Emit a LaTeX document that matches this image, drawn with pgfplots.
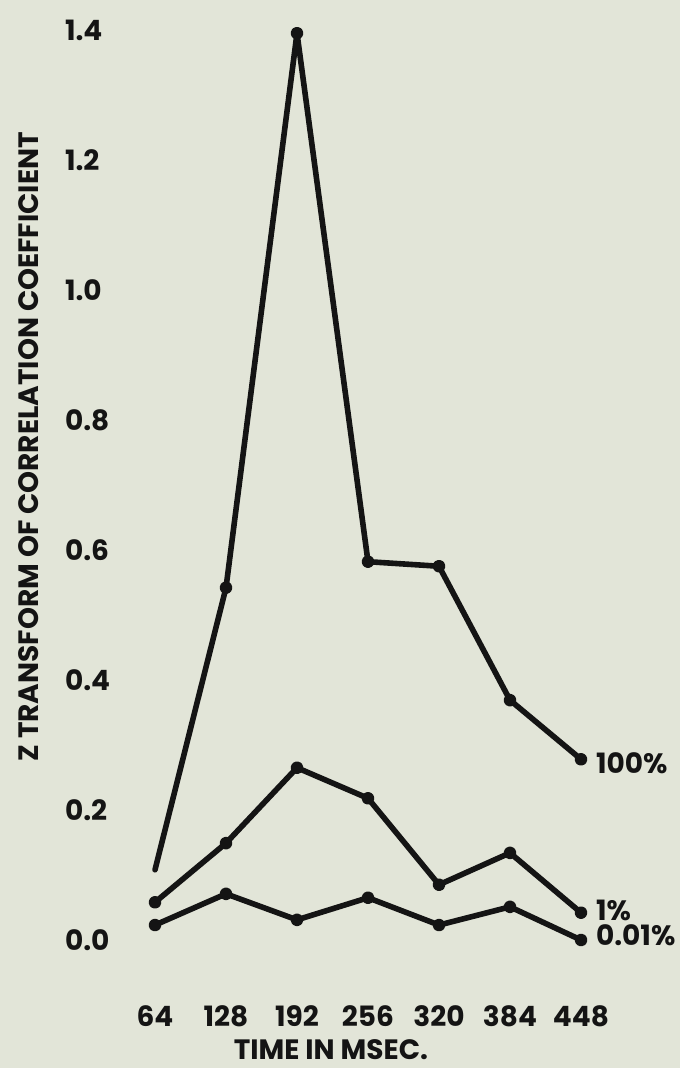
\documentclass[border=0pt]{standalone}
\usepackage{fontspec}
\setmainfont{Poppins}
\usepackage{pgfplots}
\pgfplotsset{compat=1.18}
\definecolor{paper}{RGB}{226,229,216}
\definecolor{ink}{RGB}{20,20,20}
\begin{document}
\begin{tikzpicture}
\fill[paper] (-77.5pt,-64pt) rectangle (262.5pt,470pt);
\begin{axis}[
  name=ax,
  at={(0,0)}, anchor=south west,
  scale only axis,
  width=213pt, height=455pt,
  xmin=64, xmax=448, ymin=0, ymax=1.4,
  xtick={64,128,192,256,320,384,448},
  xticklabels={64,128,192,256,320,384,448},
  ytick={0,0.2,0.4,0.6,0.8,1.0,1.2,1.4},
  yticklabels={0.0,0.2,0.4,0.6,0.8,1.0,1.2,1.4},
  axis line style={draw=none},
  major tick length=0pt,
  clip=false,
  tick label style={font=\fontsize{14}{16}\selectfont\bfseries, text=ink},
  yticklabel style={anchor=west, xshift=-48.5pt},
  xticklabel style={anchor=center, yshift=-38pt},
  xlabel={TIME IN MSEC.},
  ylabel={Z TRANSFORM OF CORRELATION COEFFICIENT},
  xlabel style={at={(axis description cs:0.413,0)}, anchor=center, yshift=-55pt, font=\fontsize{14}{16}\selectfont\bfseries, text=ink},
  ylabel style={at={(axis description cs:-0.296,0.542)}, anchor=center, font=\fontsize{14}{16}\selectfont\bfseries, text=ink},
]
\addplot[ink, line width=2.8pt, line join=round, line cap=round, mark=*, mark size=1.8pt, mark indices={2,3,4,5,6,7}]
  coordinates {(64,0.108)(128,0.542)(192,1.395)(256,0.582)(320,0.575)(384,0.369)(448,0.278)};
\addplot[ink, line width=2.8pt, line join=round, line cap=round, mark=*, mark size=1.8pt]
  coordinates {(64,0.058)(128,0.149)(192,0.265)(256,0.218)(320,0.085)(384,0.134)(448,0.042)};
\addplot[ink, line width=2.8pt, line join=round, line cap=round, mark=*, mark size=1.8pt]
  coordinates {(64,0.023)(128,0.071)(192,0.031)(256,0.065)(320,0.023)(384,0.051)(448,0.0)};
\node[anchor=west, xshift=4pt, text=ink, font=\fontsize{14}{16}\selectfont\bfseries] at (axis cs:448,0.272) {100\%};
\node[anchor=west, xshift=4pt, text=ink, font=\fontsize{14}{16}\selectfont\bfseries] at (axis cs:448,0.046) {1\%};
\node[anchor=west, xshift=4pt, text=ink, font=\fontsize{14}{16}\selectfont\bfseries] at (axis cs:448,0.008) {0.01\%};
\end{axis}
\end{tikzpicture}
\end{document}
